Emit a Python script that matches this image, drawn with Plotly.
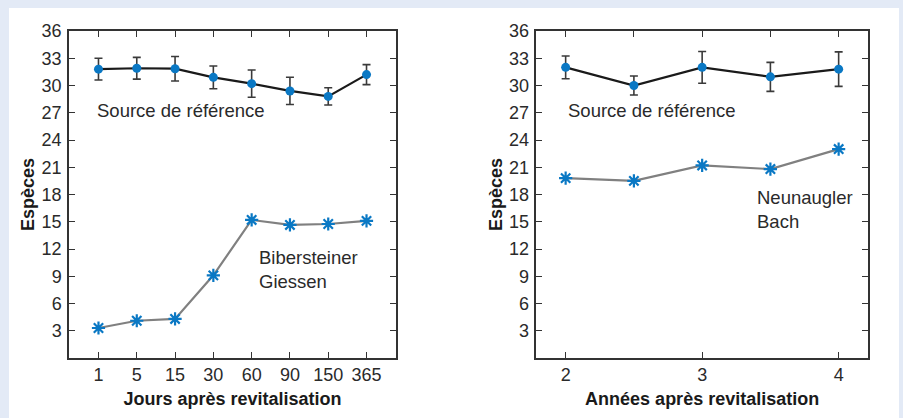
import plotly.graph_objects as go

# ---- data ----
days = ["1", "5", "15", "30", "60", "90", "150", "365"]
ref_left = [31.8, 31.9, 31.85, 30.9, 30.2, 29.4, 28.8, 31.2]
ref_left_err = [1.2, 1.2, 1.35, 1.25, 1.5, 1.5, 0.95, 1.1]
biber = [3.3, 4.1, 4.3, 9.1, 15.2, 14.65, 14.75, 15.1]

years = [2, 2.5, 3, 3.5, 4]
ref_right = [32.0, 30.0, 32.0, 30.95, 31.8]
ref_right_err = [1.25, 1.05, 1.75, 1.6, 1.9]
neun = [19.8, 19.5, 21.2, 20.8, 23.0]

yticks = [3, 6, 9, 12, 15, 18, 21, 24, 27, 30, 33, 36]
xticks_right = [2, 3, 4]
xticks_right_top = [2, 2.5, 3, 3.5, 4]

FONT = "Liberation Sans, Arial, Helvetica, sans-serif"
BLUE = "#0a78c4"
AX = "#333333"
TXT = "#2a2a2a"

W, H = 903, 418
def px_x(a, b):
    return [a / W, b / W]
ydom = [1 - 358 / H, 1 - 31 / H]

fig = go.Figure()

err_style = dict(type="data", thickness=1.6, width=4, color="#3a3a3a")

# left panel
fig.add_trace(go.Scatter(
    x=days, y=ref_left, mode="lines+markers", xaxis="x", yaxis="y",
    line=dict(color="#1a1a1a", width=2.2),
    marker=dict(color=BLUE, size=9, symbol="circle"),
    error_y=dict(array=ref_left_err, **err_style), showlegend=False))
fig.add_trace(go.Scatter(
    x=days, y=biber, mode="lines+markers", xaxis="x", yaxis="y",
    line=dict(color="#808080", width=2.2),
    marker=dict(color=BLUE, size=11, symbol="asterisk",
                line=dict(color=BLUE, width=2.2)),
    showlegend=False))

# right panel
fig.add_trace(go.Scatter(
    x=years, y=ref_right, mode="lines+markers", xaxis="x2", yaxis="y2",
    line=dict(color="#1a1a1a", width=2.2),
    marker=dict(color=BLUE, size=9, symbol="circle"),
    error_y=dict(array=ref_right_err, **err_style), showlegend=False))
fig.add_trace(go.Scatter(
    x=years, y=neun, mode="lines+markers", xaxis="x2", yaxis="y2",
    line=dict(color="#808080", width=2.2),
    marker=dict(color=BLUE, size=11, symbol="asterisk",
                line=dict(color=BLUE, width=2.2)),
    showlegend=False))

tickfont = dict(family=FONT, size=18, color=TXT)
titlefont = dict(family=FONT, size=18, color="#1a1a1a", weight="bold")

common_y = dict(range=[0, 36], tickvals=yticks, ticks="inside", ticklen=6,
                tickwidth=1.3, tickcolor=AX, showline=True, linecolor=AX,
                linewidth=1.5, mirror="ticks", showgrid=False, zeroline=False,
                tickfont=tickfont, domain=ydom, ticklabelstandoff=2,
                automargin=False,
                title=dict(text="Espèces", font=titlefont, standoff=2))

fig.update_layout(
    width=W, height=H,
    margin=dict(l=0, r=0, t=0, b=0, autoexpand=False),
    paper_bgcolor="#e3eaf6", plot_bgcolor="white",
    font=dict(family=FONT, color=TXT),
    xaxis=dict(type="category", categoryorder="array", categoryarray=days,
               range=[-0.77, 7.77], domain=px_x(69, 396), automargin=False,
               ticks="inside", ticklen=6, tickwidth=1.3, tickcolor=AX,
               showline=True, linecolor=AX, linewidth=1.5, mirror="ticks",
               showgrid=False, zeroline=False, tickfont=tickfont,
               ticklabelstandoff=0,
               title=dict(text="Jours après revitalisation", font=titlefont, standoff=8)),
    yaxis=dict(anchor="x", **common_y),
    xaxis2=dict(range=[1.785, 4.215], domain=px_x(536.3, 868), anchor="y2",
                automargin=False,
                tickvals=xticks_right, ticks="inside", ticklen=6, tickwidth=1.3,
                tickcolor=AX, showline=True, linecolor=AX, linewidth=1.5,
                mirror=True, showgrid=False, zeroline=False, tickfont=tickfont,
                ticklabelstandoff=0,
                title=dict(text="Années après revitalisation", font=titlefont, standoff=8)),
    xaxis3=dict(range=[1.785, 4.215], overlaying="x2", side="top", anchor="y2",
                automargin=False,
                tickvals=xticks_right_top, ticks="inside", ticklen=6, tickwidth=1.3,
                tickcolor=AX, showticklabels=False, showline=False,
                showgrid=False, zeroline=False),
    yaxis2=dict(anchor="x2", **common_y),
    shapes=[dict(type="rect", xref="paper", yref="paper",
                 x0=9 / W, x1=899 / W, y0=-0.01, y1=1 - 8 / H,
                 fillcolor="white", line=dict(width=0), layer="below")],
)

# dummy trace to activate xaxis3
fig.add_trace(go.Scatter(x=[2], y=[None], xaxis="x3", yaxis="y2",
                         showlegend=False, hoverinfo="skip"))

ann_font = dict(family=FONT, size=18.5, color=TXT)
fig.add_annotation(x=-0.09, y=27.2, xref="x", yref="y", text="Source de référence",
                   showarrow=False, xanchor="left", yanchor="middle", font=ann_font)
fig.add_annotation(x=4.13, y=9.7, xref="x", yref="y", text="Bibersteiner<br>Giessen",
                   showarrow=False, xanchor="left", yanchor="middle", align="left",
                   font=ann_font)
fig.add_annotation(x=2.004, y=27.2, xref="x2", yref="y2", text="Source de référence",
                   showarrow=False, xanchor="left", yanchor="middle", font=ann_font)
fig.add_annotation(x=3.39, y=16.35, xref="x2", yref="y2", text="Neunaugler<br>Bach",
                   showarrow=False, xanchor="left", yanchor="middle", align="left",
                   font=ann_font)

fig.write_html("out.html", config={"displayModeBar": False},
               post_script="document.body.style.margin='0';document.body.style.overflow='hidden';")
